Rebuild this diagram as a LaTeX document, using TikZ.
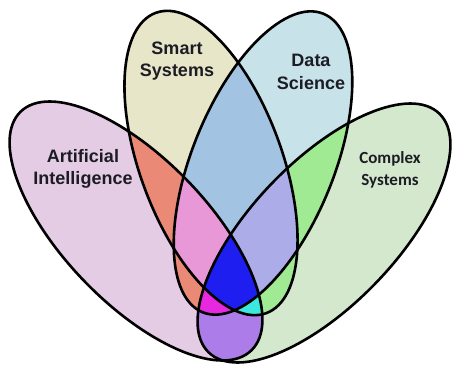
\documentclass[tikz,border=0pt]{standalone}
\usepackage{fontspec}
\setmainfont{Liberation Sans}
\newfontfamily\calfont{Carlito}
\definecolor{aiC}{RGB}{228,204,228}
\definecolor{ssC}{RGB}{232,230,200}
\definecolor{dsC}{RGB}{200,226,234}
\definecolor{csC}{RGB}{212,232,206}
\definecolor{pairOr}{RGB}{234,138,118}
\definecolor{pairBl}{RGB}{162,196,226}
\definecolor{pairGr}{RGB}{160,234,148}
\definecolor{pairPu}{RGB}{172,124,232}
\definecolor{triPk}{RGB}{232,152,214}
\definecolor{triLv}{RGB}{172,172,232}
\definecolor{triMg}{RGB}{230,40,222}
\definecolor{triCy}{RGB}{60,232,222}
\definecolor{allBl}{RGB}{30,30,240}
\definecolor{ink}{RGB}{28,28,36}
\begin{document}
\begin{tikzpicture}[x=1pt,y=-1pt,
  outline/.style={draw=black, line width=2.6pt},
  lbl/.style={font=\bfseries\fontsize{18}{22.5}\selectfont, align=center, text=ink, inner sep=0pt}]
\useasboundingbox (0,0) rectangle (454,364);
\fill[white] (0,0) rectangle (454,364);
% the four sets
\def\AIshape{(136,231) ellipse [x radius=166, y radius=72, rotate=-46]}
\def\CSshape{(324,233) ellipse [x radius=166, y radius=72, rotate=46]}
\def\SSshape{(211,163) ellipse [x radius=160, y radius=71, rotate=-69.8]}
\def\DSshape{(263,163) ellipse [x radius=161, y radius=71, rotate=68]}
% single sets
\fill[aiC] \AIshape;
\fill[csC] \CSshape;
\fill[ssC] \SSshape;
\fill[dsC] \DSshape;
% pairs
\begin{scope}\clip \AIshape; \fill[pairOr] \SSshape; \fill[pairOr] \DSshape; \fill[pairPu] \CSshape; \end{scope}
\begin{scope}\clip \SSshape; \fill[pairBl] \DSshape; \fill[pairGr] \CSshape; \end{scope}
\begin{scope}\clip \DSshape; \fill[pairGr] \CSshape; \end{scope}
% triples
\begin{scope}\clip \AIshape; \clip \SSshape; \fill[triPk] \DSshape; \fill[triCy] \CSshape; \end{scope}
\begin{scope}\clip \AIshape; \clip \DSshape; \fill[triMg] \CSshape; \end{scope}
\begin{scope}\clip \SSshape; \clip \DSshape; \fill[triLv] \CSshape; \end{scope}
% all four
\begin{scope}\clip \AIshape; \clip \SSshape; \clip \DSshape; \fill[allBl] \CSshape; \end{scope}
% outlines
\draw[outline] \AIshape;
\draw[outline] \CSshape;
\draw[outline] \SSshape;
\draw[outline] \DSshape;
\node[lbl] (ai) at (83,169) {Artificial\\Intelligence};
\node[lbl] (ss) at (177,61) {Smart\\Systems};
\node[lbl] (ds) at (311,72) {Data\\Science};
\node[lbl, font=\calfont\bfseries\fontsize{17}{21.5}\selectfont] (cs) at (390,170) {Complex\\Systems};
\end{tikzpicture}
\end{document}
